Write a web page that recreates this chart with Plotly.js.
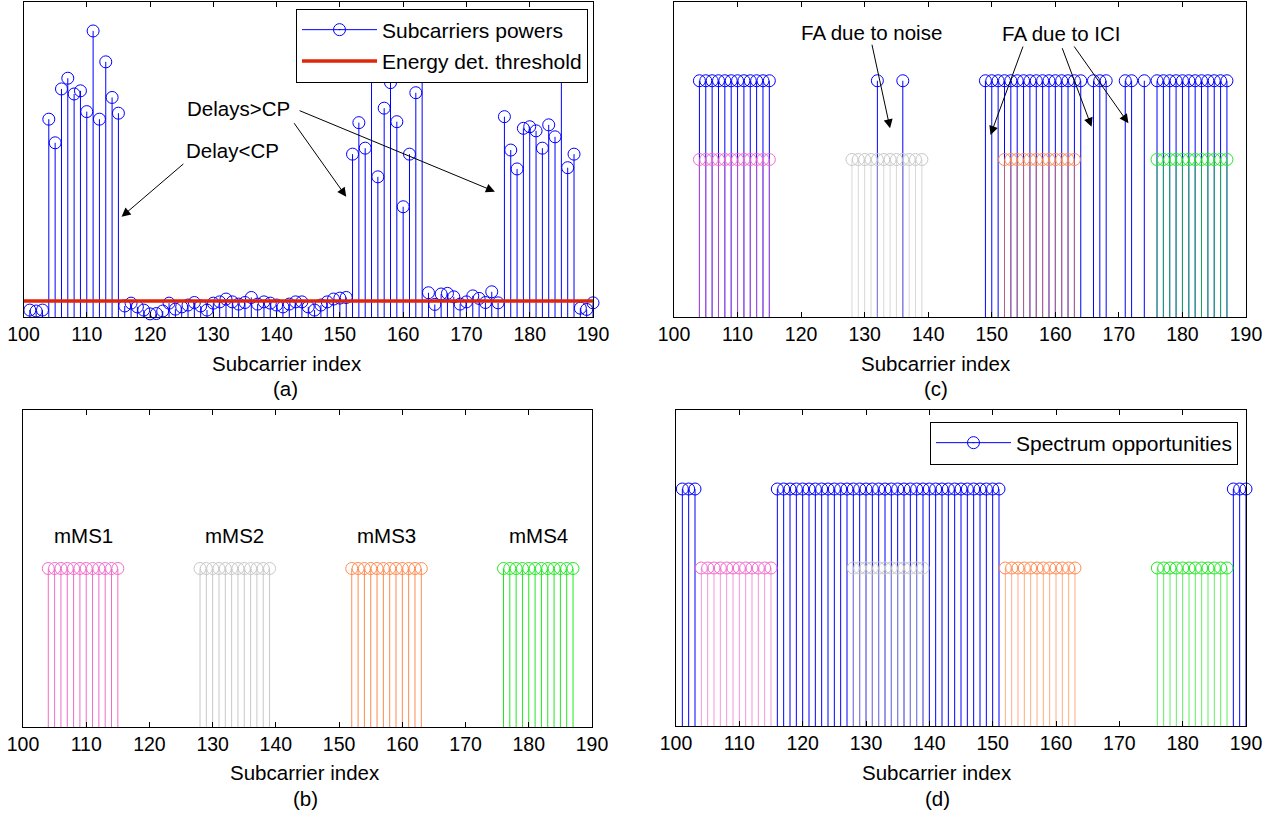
<!DOCTYPE html>
<html>
<head>
<meta charset="utf-8">
<script src="https://cdn.plot.ly/plotly-3.0.1.min.js"></script>
<style>
html,body{margin:0;padding:0;background:#fff;}
#chart{width:1283px;height:818px;}
</style>
</head>
<body>
<div id="chart"></div>
<script>
// ---------- DATA ----------
// Panel (a): received subcarrier powers (arbitrary linear units)
const powerIndex = [101,102,103,104,105,106,107,108,109,110,111,112,113,114,115,116,117,118,119,120,
  121,122,123,124,125,126,127,128,129,130,131,132,133,134,135,136,137,138,139,140,
  141,142,143,144,145,146,147,148,149,150,151,152,153,154,155,156,157,158,159,160,
  161,162,163,164,165,166,167,168,169,170,171,172,173,174,175,176,177,178,179,180,
  181,182,183,184,185,186,187,188,189,190];
const powerValue = [0.22,0.19,0.22,6.28,5.53,7.24,7.58,7.08,7.18,6.52,9.08,6.28,8.10,6.97,6.47,0.35,0.44,0.32,0.22,0.10,
  0.11,0.19,0.44,0.25,0.32,0.38,0.46,0.35,0.22,0.44,0.48,0.57,0.48,0.41,0.46,0.62,0.41,0.48,0.44,0.38,
  0.32,0.41,0.48,0.48,0.32,0.22,0.38,0.48,0.57,0.60,0.62,5.17,6.17,5.36,8.79,4.45,6.63,7.44,6.20,3.50,
  5.17,7.12,8.63,0.77,0.40,0.73,0.75,0.64,0.41,0.48,0.67,0.59,0.46,0.80,0.45,6.36,5.30,4.70,5.99,6.04,
  5.91,5.36,6.10,5.72,7.63,4.74,5.17,0.28,0.24,0.45];
const energyThreshold = 0.51;

// mMS allocations (panels b, c, d)
const mms1 = [104,105,106,107,108,109,110,111,112,113,114,115];
const mms2 = [128,129,130,131,132,133,134,135,136,137,138,139];
const mms3 = [152,153,154,155,156,157,158,159,160,161,162,163];
const mms4 = [176,177,178,179,180,181,182,183,184,185,186,187];
const mmsNames = ['mMS1','mMS2','mMS3','mMS4'];
const mmsLevel = 1;

// Panel (c): subcarriers detected as busy by the energy detector
const detectedIdx = [104,105,106,107,108,109,110,111,112,113,114,115,132,136,
  149,150,151,152,153,154,155,156,157,158,159,160,161,162,163,164,166,167,168,171,172,174,
  176,177,178,179,180,181,182,183,184,185,186,187];
// Panel (d): spectrum opportunities
const opportunityIdx = [101,102,103,116,117,118,119,120,121,122,123,124,125,126,127,128,129,130,131,132,133,134,
  135,136,137,138,139,140,141,142,143,144,145,146,147,148,149,150,151,188,189,190];
const flagLevel = 1.5;

const xTicks = [100,110,120,130,140,150,160,170,180,190];
const xRange = [100,190];

// ---------- STYLE ----------
const BLUE = '#0000ff';
const MMS_COLORS = ['#f26bc9','#c8c8c8','#ff8a50','#22e822'];
const FONT = 'Liberation Sans, Arial, Helvetica, sans-serif';
const MS = 12;

function axName(n){ return n===1 ? '' : String(n); }
function stemLines(xs, ys, color, n, opacity){
  const X=[],Y=[];
  xs.forEach((x,i)=>{ X.push(x,x,null); Y.push(0,ys[i],null); });
  return {type:'scatter',mode:'lines',x:X,y:Y,xaxis:'x'+axName(n),yaxis:'y'+axName(n),
    line:{color:color,width:1},opacity:opacity||1,showlegend:false,hoverinfo:'skip',cliponaxis:false};
}
function stemHeads(xs, ys, color, n){
  return {type:'scatter',mode:'markers',x:xs,y:ys,xaxis:'x'+axName(n),yaxis:'y'+axName(n),
    marker:{symbol:'circle-open',size:MS,color:color,line:{width:1,color:color}},
    showlegend:false,cliponaxis:false};
}
function level(xs, v){ return xs.map(()=>v); }

const traces = [];
// (a)
traces.push(stemLines(powerIndex, powerValue, BLUE, 1));
traces.push(stemHeads(powerIndex, powerValue, BLUE, 1));
traces.push({type:'scatter',mode:'lines',x:xRange,y:[energyThreshold,energyThreshold],xaxis:'x',yaxis:'y',
  line:{color:'#e0260a',width:3.5},name:'Energy det. threshold',legend:'legend',legendgroup:'g2',showlegend:true,cliponaxis:true});
traces.push({type:'scatter',mode:'lines+markers',x:[null],y:[null],xaxis:'x',yaxis:'y',name:'Subcarriers powers',
  line:{color:BLUE,width:1},marker:{symbol:'circle-open-dot',size:MS,color:BLUE,line:{width:1,color:BLUE}},
  legend:'legend',legendgroup:'g1',legendrank:1,showlegend:true});

// (b)
const groups = [mms1,mms2,mms3,mms4];
groups.forEach((g,i)=>{
  traces.push(stemLines(g, level(g,mmsLevel), MMS_COLORS[i], 2));
  traces.push(stemHeads(g, level(g,mmsLevel), MMS_COLORS[i], 2));
});

// (c)
traces.push(stemLines(detectedIdx, level(detectedIdx,flagLevel), BLUE, 3));
traces.push(stemHeads(detectedIdx, level(detectedIdx,flagLevel), BLUE, 3));
groups.forEach((g,i)=>{
  traces.push(stemLines(g, level(g,mmsLevel), MMS_COLORS[i], 3, 0.7));
  traces.push(stemHeads(g, level(g,mmsLevel), MMS_COLORS[i], 3));
});

// (d)
traces.push(stemLines(opportunityIdx, level(opportunityIdx,flagLevel), BLUE, 4));
traces.push(stemHeads(opportunityIdx, level(opportunityIdx,flagLevel), BLUE, 4));
groups.forEach((g,i)=>{
  traces.push(stemLines(g, level(g,mmsLevel), MMS_COLORS[i], 4, 0.7));
  traces.push(stemHeads(g, level(g,mmsLevel), MMS_COLORS[i], 4));
});
traces.push({type:'scatter',mode:'lines+markers',x:[null],y:[null],xaxis:'x4',yaxis:'y4',name:'Spectrum opportunities',
  line:{color:BLUE,width:1},marker:{symbol:'circle-open-dot',size:MS,color:BLUE,line:{width:1,color:BLUE}},
  legend:'legend2',showlegend:true});

// ---------- LAYOUT ----------
const W=1283, H=818;
const px = v => v/W, py = v => 1 - v/H;
function xax(l, r){
  return {domain:[px(l),px(r)],range:xRange,tickvals:xTicks,ticks:'inside',ticklen:5,tickcolor:'#000',
    showline:true,linecolor:'#000',linewidth:1,mirror:'ticks',showgrid:false,zeroline:false,
    tickfont:{family:FONT,size:19.5,color:'#000'},fixedrange:true};
}
function yax(top, bottom, ymax){
  return {domain:[py(bottom),py(top)],range:[0,ymax],tickvals:[0,ymax],ticks:'inside',ticklen:5,tickcolor:'#000',
    showticklabels:false,showline:true,linecolor:'#000',linewidth:1,mirror:'ticks',showgrid:false,zeroline:false,fixedrange:true};
}
const annFont = {family:FONT,size:20.5,color:'#000'};
function txt(text, x, y, xref, yref){ return {text:text,x:x,y:y,xref:xref,yref:yref,showarrow:false,font:annFont,xanchor:'center',yanchor:'middle'}; }
function arrow(xr, yr, x, y, ax, ay){
  return {text:'',x:x,y:y,ax:ax,ay:ay,xref:xr,yref:yr,axref:xr,ayref:yr,showarrow:true,
    arrowhead:2,arrowsize:1.8,arrowwidth:1,arrowcolor:'#000',standoff:0,startstandoff:0};
}
const annotations = [
  // axis titles and panel captions
  txt('Subcarrier index', px(286.5), py(364), 'paper','paper'),
  txt('(a)', px(285), py(388), 'paper','paper'),
  txt('Subcarrier index', px(305), py(772), 'paper','paper'),
  txt('(b)', px(305), py(798), 'paper','paper'),
  txt('Subcarrier index', px(936), py(364), 'paper','paper'),
  txt('(c)', px(936), py(388), 'paper','paper'),
  txt('Subcarrier index', px(937), py(772), 'paper','paper'),
  txt('(d)', px(937), py(798), 'paper','paper'),
  // (a) callouts
  txt('Delays>CP', 133.9, 6.63, 'x','y'),
  txt('Delay<CP', 133.1, 5.30, 'x','y'),
  arrow('x','y', 115.5, 3.18, 125.5, 4.90),
  arrow('x','y', 151.0, 3.82, 142.6, 6.20),
  arrow('x','y', 174.5, 3.98, 143.4, 6.57),
  // (b) labels
  txt(mmsNames[0], 109.5, 1.21, 'x2','y2'),
  txt(mmsNames[1], 133.5, 1.21, 'x2','y2'),
  txt(mmsNames[2], 157.5, 1.21, 'x2','y2'),
  txt(mmsNames[3], 181.5, 1.21, 'x2','y2'),
  // (c) callouts
  txt('FA due to noise', 131.1, 1.806, 'x3','y3'),
  arrow('x3','y3', 134.0, 1.198, 131.1, 1.738),
  txt('FA due to ICI', 160.9, 1.801, 'x3','y3'),
  arrow('x3','y3', 149.8, 1.156, 155.0, 1.727),
  arrow('x3','y3', 165.7, 1.208, 161.0, 1.716),
  arrow('x3','y3', 171.5, 1.230, 162.8, 1.727)
];

const legendCommon = {bgcolor:'#fff',bordercolor:'#000',borderwidth:1,font:{family:FONT,size:21,color:'#000'},
  xanchor:'right',yanchor:'top',tracegroupgap:1,itemwidth:75,traceorder:'grouped'};
const layout = {
  width:W,height:H,margin:{l:0,r:0,t:0,b:0},paper_bgcolor:'#fff',plot_bgcolor:'#fff',
  showlegend:true,hovermode:false,
  xaxis:xax(23.5,593), yaxis:yax(2,317,10),
  xaxis2:xax(23,592), yaxis2:yax(410,727,2),
  xaxis3:xax(674,1246), yaxis3:yax(2,317,2),
  xaxis4:xax(676,1246), yaxis4:yax(410,726,2),
  legend:Object.assign({x:px(588),y:py(8.5)},legendCommon),
  legend2:Object.assign({x:px(1238),y:py(421.5)},legendCommon),
  annotations:annotations
};
layout.xaxis.anchor='y'; layout.yaxis.anchor='x';
layout.xaxis2.anchor='y2'; layout.yaxis2.anchor='x2';
layout.xaxis3.anchor='y3'; layout.yaxis3.anchor='x3';
layout.xaxis4.anchor='y4'; layout.yaxis4.anchor='x4';

Plotly.newPlot('chart', traces, layout, {displayModeBar:false,staticPlot:true});
</script>
</body>
</html>
